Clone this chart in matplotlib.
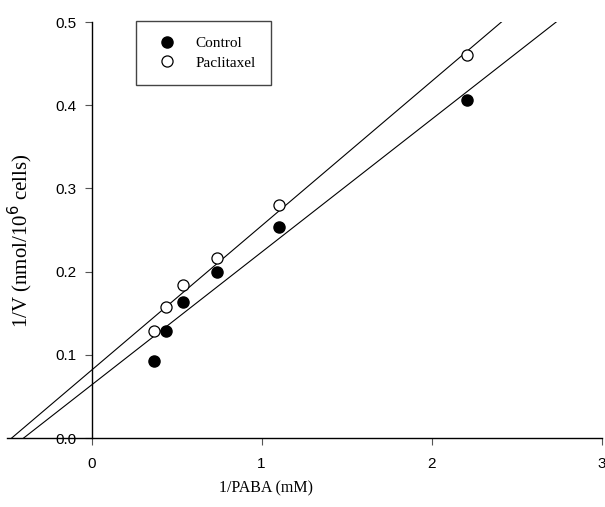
import numpy as np
import matplotlib
matplotlib.use("Agg")
import matplotlib.pyplot as plt

# Lineweaver-Burk data, 1/PABA (mM) vs 1/V
inv_paba = [0.37, 0.44, 0.54, 0.74, 1.10, 2.21]
control = [0.092, 0.129, 0.164, 0.199, 0.254, 0.406]
paclitaxel = [0.129, 0.157, 0.184, 0.216, 0.280, 0.460]

x_ticks = [0, 1, 2, 3]
y_ticks = [0.0, 0.1, 0.2, 0.3, 0.4, 0.5]

serif = ["Liberation Serif", "DejaVu Serif"]
sans = ["Liberation Sans", "DejaVu Sans"]

fig = plt.figure(figsize=(6.05, 5.07), dpi=100)
ax = fig.add_axes([6.5 / 605, 69 / 507, 595 / 605, 416 / 507])

# regression lines, extended back to the x intercept
xx = np.linspace(-0.6, 3.0, 200)
for yv in (control, paclitaxel):
    m, b = np.polyfit(inv_paba, yv, 1)
    ax.plot(xx, m * xx + b, color="black", lw=0.8, zorder=2)

ax.plot(inv_paba, control, "o", ms=8, mfc="black", mec="black",
        label="Control", zorder=3)
ax.plot(inv_paba, paclitaxel, "o", ms=8, mfc="white", mec="black",
        mew=0.9, label="Paclitaxel", zorder=3)

ax.set_xlim(-0.5, 3.0)
ax.set_ylim(0, 0.5)
ax.spines["top"].set_visible(False)
ax.spines["right"].set_visible(False)
ax.spines["left"].set_position(("data", 0))
ax.spines["left"].set_linewidth(1.0)
ax.spines["bottom"].set_linewidth(1.0)

ax.set_xticks(x_ticks)
ax.set_yticks(y_ticks)
ax.set_yticklabels(["%.1f" % v for v in y_ticks])
ax.tick_params(axis="both", direction="out", length=5, width=0.8,
               color="#555555", labelsize=11)
ax.tick_params(axis="x", pad=9)
ax.tick_params(axis="y", pad=6)
for lab in ax.get_xticklabels() + ax.get_yticklabels():
    lab.set_family(sans)

ax.set_xlabel("1/PABA (mM)", family=serif, fontsize=11.5)
ax.xaxis.set_label_coords((266 - 6.5) / 595, -0.102)
ax.set_ylabel("1/V (nmol/10$^6$ cells)", family=serif, fontsize=15)
ax.yaxis.set_label_coords((35 - 6.5) / 595, 0.475)

leg = ax.legend(loc="upper left", bbox_to_anchor=(136 / 605, 1 - 21 / 507),
                bbox_transform=fig.transFigure, borderaxespad=0,
                numpoints=1, fancybox=False, framealpha=1,
                edgecolor="#444444", borderpad=1.0, handlelength=2.0,
                handletextpad=0.9, labelspacing=0.4,
                prop={"family": serif, "size": 11})
leg.get_frame().set_linewidth(1.0)

fig.savefig("out.png", dpi=100)
